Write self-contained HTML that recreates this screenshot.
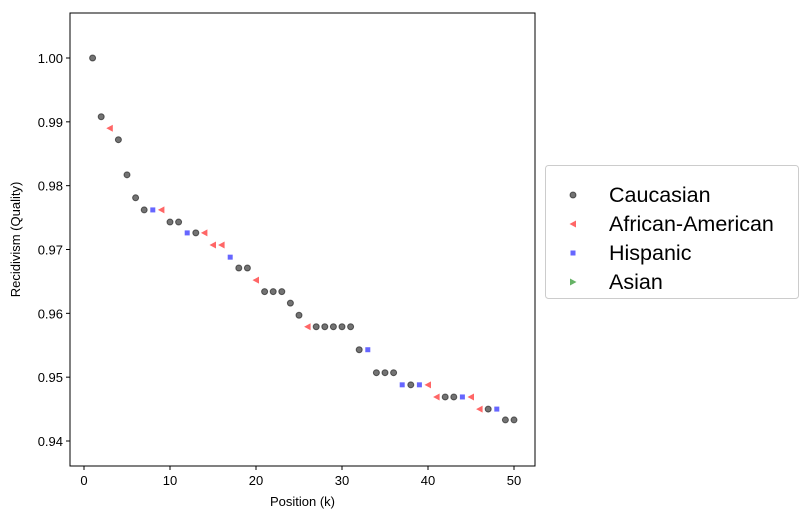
<!DOCTYPE html>
<html><head><meta charset="utf-8"><style>
body{margin:0;background:#fff;font-family:"Liberation Sans",sans-serif;}
svg text{font-family:"Liberation Sans",sans-serif;}
</style></head><body>
<svg id="chart" width="800" height="519" xmlns="http://www.w3.org/2000/svg"></svg>
<script>
const positions=[1,2,3,4,5,6,7,8,9,10,11,12,13,14,15,16,17,18,19,20,21,22,23,24,25,26,27,28,29,30,31,32,33,34,35,36,37,38,39,40,41,42,43,44,45,46,47,48,49,50];
const quality=[1.0,0.9908,0.9890,0.9872,0.9817,0.9781,0.9762,0.9762,0.9762,0.9743,0.9743,0.9726,0.9726,0.9726,0.9707,0.9707,0.9688,0.9671,0.9671,0.9652,0.9634,0.9634,0.9634,0.9616,0.9597,0.9579,0.9579,0.9579,0.9579,0.9579,0.9579,0.9543,0.9543,0.9507,0.9507,0.9507,0.9488,0.9488,0.9488,0.9488,0.9469,0.9469,0.9469,0.9469,0.9469,0.9450,0.9450,0.9450,0.9433,0.9433];
const groups=["C","C","A","C","C","C","C","H","A","C","C","H","C","A","A","A","H","C","C","A","C","C","C","C","C","A","C","C","C","C","C","C","H","C","C","C","H","C","H","A","A","C","C","H","A","A","C","H","C","C"];
const xTicks=[0,10,20,30,40,50];
const yTicks=[0.94,0.95,0.96,0.97,0.98,0.99,1.00];
const legendLabels=["Caucasian","African-American","Hispanic","Asian"];
const legendKeys=["C","A","H","S"];
const NS="http://www.w3.org/2000/svg";
const svg=document.getElementById('chart');
const L=70,R=535,T=13,B=466;
const xs=v=>84+(v-0)*8.6;
const ys=v=>58+(1.0-v)*(383/0.06);
function el(t,a,p){const e=document.createElementNS(NS,t);for(const k in a)e.setAttribute(k,a[k]);(p||svg).appendChild(e);return e;}
function marker(g,x,y,parent){
  if(g==="C") return el('circle',{cx:x,cy:y,r:3,fill:'#000','fill-opacity':0.55,stroke:'#000','stroke-opacity':0.55,'stroke-width':1},parent);
  if(g==="A") return el('polygon',{points:`${x-3.5},${y} ${x+3},${y-3.5} ${x+3},${y+3.5}`,fill:'#ff0000','fill-opacity':0.6},parent);
  if(g==="H") return el('rect',{x:x-2.5,y:y-2.5,width:5,height:5,fill:'#0000ff','fill-opacity':0.6},parent);
  return el('polygon',{points:`${x+3.5},${y} ${x-3},${y-3.5} ${x-3},${y+3.5}`,fill:'#008000','fill-opacity':0.6},parent);
}
const frame=el('rect',{x:L,y:T,width:R-L,height:B-T,fill:'none',stroke:'#000','stroke-width':1});


xTicks.forEach(v=>{
  const x=xs(v);
  const t=el('line',{x1:x,y1:B,x2:x,y2:B+4,stroke:'#000'});
  
  
  const l=el('text',{x:x,y:B+19,'text-anchor':'middle','font-size':13});
  l.textContent=v;
  
  
});
yTicks.forEach(v=>{
  const y=ys(v);
  const t=el('line',{x1:L-4,y1:y,x2:L,y2:y,stroke:'#000'});
  
  
  const l=el('text',{x:L-7,y:y+5,'text-anchor':'end','font-size':13});
  l.textContent=v.toFixed(2);
  
  
});
const xt=el('text',{x:(L+R)/2,y:506,'text-anchor':'middle','font-size':13});
xt.textContent='Position (k)';


const yt=el('text',{x:20,y:(T+B)/2,'text-anchor':'middle','font-size':13,transform:`rotate(-90 20 ${(T+B)/2})`});
yt.textContent='Recidivism (Quality)';


positions.forEach((p,i)=>{
  const m=marker(groups[i],xs(p),ys(quality[i]));
  
  
});
const lg=el('g',{});


el('rect',{x:545.5,y:165.5,width:253,height:133,rx:3,fill:'#fff',stroke:'#ccc'},lg);
legendLabels.forEach((lab,i)=>{
  const y=195+i*29;
  const g=el('g',{},lg);
  
  
  marker(legendKeys[i],573,y,g);
  const t=el('text',{x:609,y:y+7,'font-size':21.5},g);
  t.textContent=lab;
});
</script>
</body></html>
